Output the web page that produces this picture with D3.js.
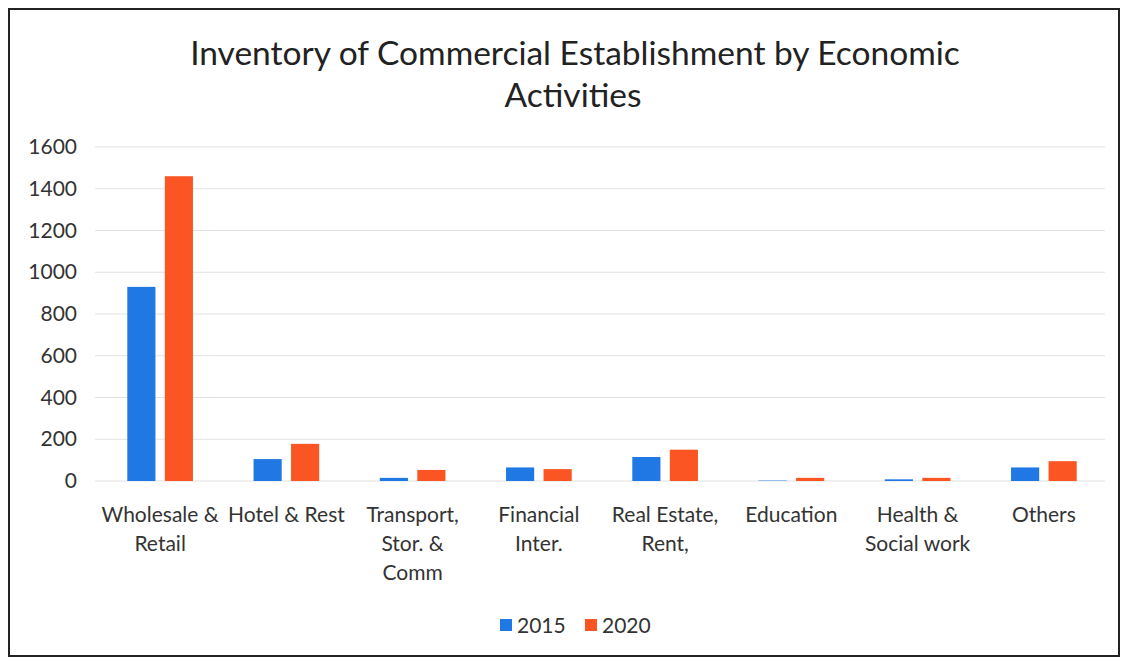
<!DOCTYPE html>
<html>
<head>
<meta charset="utf-8">
<script src="https://cdn.jsdelivr.net/npm/d3@7"></script>
<style>
  html, body { margin: 0; padding: 0; background: #fff; }
  svg { display: block; }
  text { font-family: "Lato", sans-serif; fill: #333; }
</style>
</head>
<body>
<svg id="chart" width="1126" height="661"></svg>
<script>
const categories = ["Wholesale & Retail", "Hotel & Rest", "Transport, Stor. & Comm", "Financial Inter.", "Real Estate, Rent,", "Education", "Health & Social work", "Others"];
const categoryLines = [["Wholesale &", "Retail"], ["Hotel & Rest"], ["Transport,", "Stor. &", "Comm"], ["Financial", "Inter."], ["Real Estate,", "Rent,"], ["Education"], ["Health &", "Social work"], ["Others"]];
const seriesNames = ["2015", "2020"];
const values2015 = [930, 105, 15, 65, 115, 2, 8, 65];
const values2020 = [1460, 178, 53, 57, 150, 15, 15, 95];
const yTicks = [0, 200, 400, 600, 800, 1000, 1200, 1400, 1600];
const colors = ["#1f78e3", "#fa5522"];

const svg = d3.select("#chart");
const W = 1126, H = 661;
svg.append("rect").attr("x", 0).attr("y", 0).attr("width", W).attr("height", H).attr("fill", "#fff");
svg.append("rect").attr("x", 9).attr("y", 9).attr("width", 1110).attr("height", 647)
  .attr("fill", "none").attr("stroke", "#222").attr("stroke-width", 2);

const mLeft = 97, mRight = 1107, mTop = 147, mBottom = 481;
const y = d3.scaleLinear().domain([0, 1600]).range([mBottom, mTop]);
const x0 = d3.scaleBand().domain(categories).range([mLeft, mRight]).paddingInner(0.48).paddingOuter(0.24);
const x1 = d3.scaleBand().domain(seriesNames).range([0, x0.bandwidth()]).paddingInner(0.25).paddingOuter(0);

// title
const title = svg.append("text").attr("text-anchor", "middle").attr("font-size", 33.5).style("fill", "#222");
title.append("tspan").attr("x", 575).attr("y", 65).text("Inventory of Commercial  Establishment by Economic");
title.append("tspan").attr("x", 573).attr("y", 107).text("Activities");

// gridlines
svg.append("g").selectAll("line").data(yTicks).join("line")
  .attr("x1", mLeft - 2).attr("x2", mRight - 2)
  .attr("y1", d => y(d)).attr("y2", d => y(d))
  .attr("stroke", "#e2e2e2").attr("stroke-width", 1.2);

// y axis
const yAxis = d3.axisLeft(y).tickValues(yTicks).tickSize(0).tickPadding(0).tickFormat(d3.format("d"));
const ya = svg.append("g").attr("transform", `translate(77,0)`).call(yAxis);
ya.select(".domain").remove();
ya.selectAll("text").attr("font-size", 21).style("fill", "#333")
  .style("font-family", "Lato, sans-serif");

// bars
const data = categories.map((c, i) => ({ c, vals: [values2015[i], values2020[i]] }));
const groups = svg.append("g").selectAll("g").data(data).join("g")
  .attr("transform", d => `translate(${x0(d.c)},0)`);
groups.selectAll("rect").data(d => d.vals.map((v, j) => ({ s: seriesNames[j], v, j })))
  .join("rect")
  .attr("x", d => x1(d.s))
  .attr("width", x1.bandwidth())
  .attr("y", d => y(d.v))
  .attr("height", d => mBottom - y(d.v))
  .attr("fill", d => colors[d.j]);

// x axis labels
const xAxis = d3.axisBottom(x0).tickSize(0).tickFormat("");
const xa = svg.append("g").attr("transform", `translate(0,${mBottom})`).call(xAxis);
xa.select(".domain").remove();
categories.forEach((c, i) => {
  const t = svg.append("text").attr("text-anchor", "middle").attr("font-size", 21).style("fill", "#333");
  categoryLines[i].forEach((line, k) => {
    t.append("tspan").attr("x", x0(c) + x0.bandwidth() / 2).attr("y", 522 + k * 29).text(line);
  });
});

// legend
const legend = svg.append("g");
const legX = [500, 585];
seriesNames.forEach((s, i) => {
  legend.append("rect").attr("x", legX[i]).attr("y", 619).attr("width", 12).attr("height", 12).attr("fill", colors[i]);
  legend.append("text").attr("x", legX[i] + 17).attr("y", 633).attr("font-size", 21).style("fill", "#333").text(s);
});
</script>
</body>
</html>
